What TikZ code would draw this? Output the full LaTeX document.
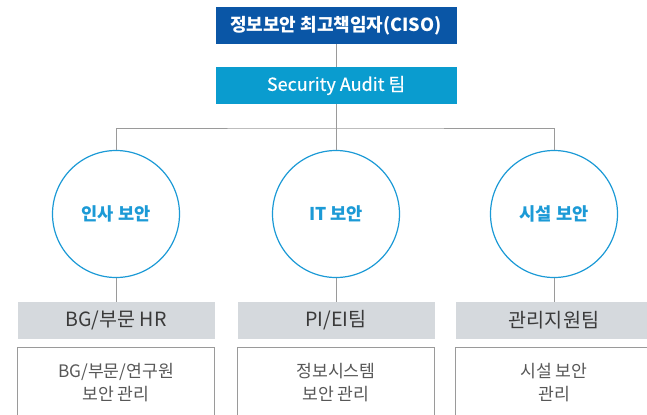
\documentclass[tikz,border=0pt]{standalone}
\usepackage{fontspec}
\setmainfont{Noto Sans CJK KR}
\newfontfamily\midfont[FakeBold=0.5]{Noto Sans CJK KR}
\usepackage{tikz}
\usetikzlibrary{positioning}
\usepackage{xcolor}
\definecolor{navy}{HTML}{0A56A6}
\definecolor{aqua}{HTML}{0A9CCF}
\definecolor{ring}{HTML}{1C9AD6}
\definecolor{mist}{HTML}{D5D9DD}
\definecolor{wire}{HTML}{9A9A9A}
\definecolor{txt}{HTML}{3A3A3A}
\tikzset{headbox/.style={fill=navy,text=white,minimum width=120.5pt,minimum height=18.5pt,inner sep=0pt,font=\fontsize{9}{11}\selectfont\bfseries},auditbox/.style={fill=aqua,text=white,minimum width=120.5pt,minimum height=18.5pt,inner sep=0pt,font=\fontsize{9}{11}\selectfont\midfont},areacircle/.style={circle,draw=ring,line width=.6pt,fill=white,minimum size=63.5pt,inner sep=0pt,text=ring,font=\fontsize{8.8}{11}\selectfont\bfseries},teambox/.style={fill=mist,text=txt,minimum width=98.5pt,minimum height=18.5pt,inner sep=0pt,font=\fontsize{9.8}{11}\selectfont},dutybox/.style={draw=wire,line width=.5pt,text=txt!85,minimum width=98.5pt,minimum height=35.5pt,inner sep=0pt,align=center,font=\fontsize{8.6}{11.5}\selectfont},link/.style={draw=wire,line width=.5pt}}

\begin{document}
\begin{tikzpicture}[x=.5pt,y=-.5pt]
\clip (0,0) rectangle (647,414);
\node[headbox] (ciso) at (336,25.5) {정보보안 최고책임자(CISO)};
\node[auditbox] (audit) at (336,85.5) {Security Audit 팀};
\coordinate (bar) at (336,128);
% 세 보안 분야
\node[areacircle] (hrsec) at (116,214) {인사 보안};
\node[areacircle] (itsec) at (336,214) {IT 보안};
\node[areacircle] (facsec) at (554,214) {시설 보안};
\node[teambox] (hrteam) at (116,320.5) {BG/부문 HR};
\node[teambox] (itteam) at (336,320.5) {PI/EI팀};
\node[teambox] (facteam) at (554,320.5) {관리지원팀};
\node[dutybox] (hrduty) at (116,382.5) {BG/부문/연구원\\보안 관리};
\node[dutybox] (itduty) at (336,382.5) {정보시스템\\보안 관리};
\node[dutybox] (facduty) at (554,382.5) {시설 보안\\관리};
\draw[link] (ciso.south)--(audit.north);
\draw[link] (audit.south)--(itsec.north);
\draw[link] (hrsec.north)|-(bar)-|(facsec.north);
\foreach \n in {hr,it,fac} \draw[link] (\n sec.south)--(\n team.north);
\end{tikzpicture}
\end{document}
